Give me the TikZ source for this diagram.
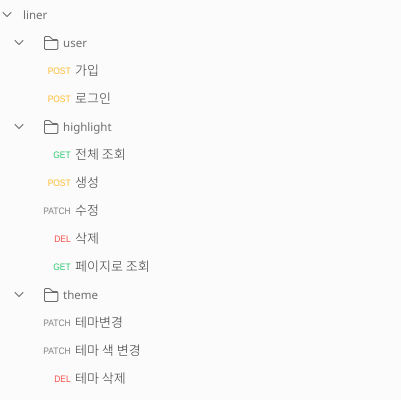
\documentclass[tikz,border=0pt]{standalone}
\usepackage{fontspec}
\setmainfont{Noto Sans}
\newfontfamily\cjk{Noto Sans CJK KR Light}
\newfontfamily\methodfont[FakeStretch=0.9]{Liberation Sans}
\definecolor{bgc}{HTML}{FBFBFB}
\definecolor{txtc}{HTML}{707070}
\definecolor{itemc}{HTML}{383838}
\definecolor{iconc}{HTML}{6B6B6B}
\definecolor{postc}{HTML}{FFBC2E}
\definecolor{getc}{HTML}{2CCB70}
\definecolor{patchc}{HTML}{858585}
\definecolor{delc}{HTML}{F4504A}
\tikzset{
  x=1pt,y=-1pt,
  foldertext/.style={anchor=base west,inner sep=0pt,text=txtc,font=\fontsize{11.5}{14}\selectfont},
  itemtext/.style={anchor=base west,inner sep=0pt,text=itemc,font=\cjk\fontsize{13}{15}\selectfont},
  methodtext/.style={anchor=base east,inner sep=0pt,font=\methodfont\fontsize{9.4}{11}\selectfont},
  post/.style={methodtext,text=postc},
  get/.style={methodtext,text=getc},
  patch/.style={methodtext,text=patchc},
  del/.style={methodtext,text=delc},
  chev/.pic={\draw[iconc,line width=0.8pt,line cap=round,line join=round] (-4,-2) -- (0,2) -- (4,-2);},
  folder/.pic={\draw[iconc,line width=0.9pt,line join=round,rounded corners=1pt] (-6.5,6.5) -- (-6.5,-6.5) -- (-1,-6.5) -- (1,-3.5) -- (6.8,-3.5) -- (6.8,6.5) -- cycle;
    \draw[iconc,line width=0.9pt] (-6.5,-2.5) -- (6.8,-2.5);},
}
\begin{document}
\begin{tikzpicture}
\useasboundingbox (0,0) rectangle (401,400);
\fill[bgc] (0,0) rectangle (401,400);
\pic at (7,14.5) {chev};
\pic at (19,42.5) {chev};
\pic at (19,126.5) {chev};
\pic at (19,294.5) {chev};
\pic at (51,43) {folder};
\pic at (51,127) {folder};
\pic at (51,295) {folder};
\node[foldertext] (liner) at (23,19) {liner};
\node[foldertext] (user) at (63,47.5) {user};
\node[foldertext] (highlight) at (63,131.5) {highlight};
\node[foldertext] (theme) at (63,299.5) {theme};
\node[post] (m1) at (71,74.5) {POST};
\node[itemtext] (t1) at (75,75) {가입};
\node[post] (m2) at (71,102.5) {POST};
\node[itemtext] (t2) at (75,103) {로그인};
\node[get] (m3) at (71,158.5) {GET};
\node[itemtext] (t3) at (75,159) {전체 조회};
\node[post] (m4) at (71,186.5) {POST};
\node[itemtext] (t4) at (75,187) {생성};
\node[patch] (m5) at (71,214.5) {PATCH};
\node[itemtext] (t5) at (75,215) {수정};
\node[del] (m6) at (71,242.5) {DEL};
\node[itemtext] (t6) at (75,243) {삭제};
\node[get] (m7) at (71,270.5) {GET};
\node[itemtext] (t7) at (75,271) {페이지로 조회};
\node[patch] (m8) at (71,326.5) {PATCH};
\node[itemtext] (t8) at (75,327) {테마변경};
\node[patch] (m9) at (71,354.5) {PATCH};
\node[itemtext] (t9) at (75,355) {테마 색 변경};
\node[del] (m10) at (71,382.5) {DEL};
\node[itemtext] (t10) at (75,383) {테마 삭제};
\end{tikzpicture}
\end{document}
